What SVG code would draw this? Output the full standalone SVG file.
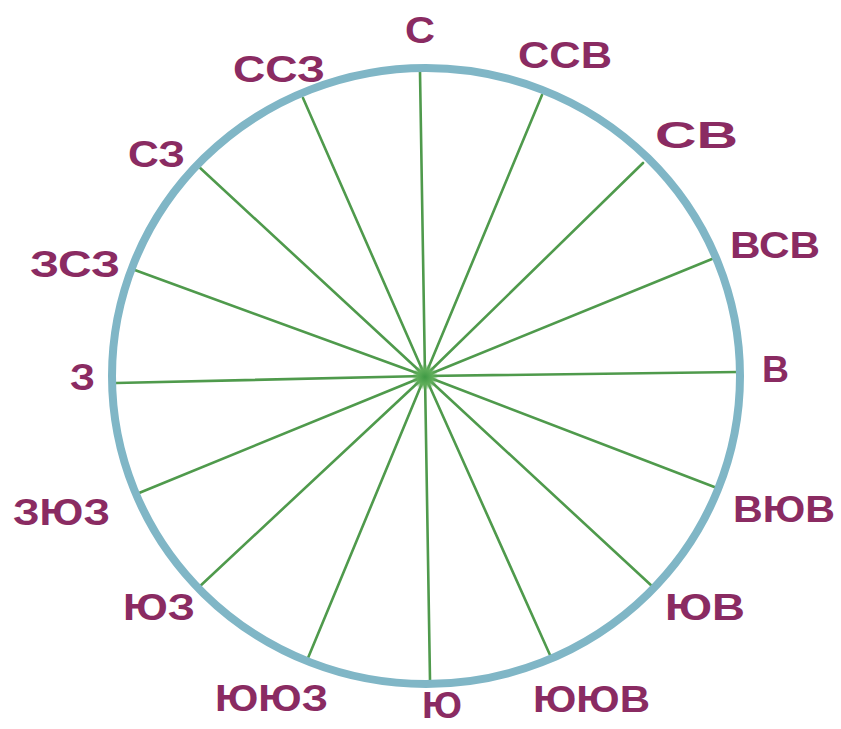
<svg xmlns="http://www.w3.org/2000/svg" width="841" height="729" viewBox="0 0 841 729">
<style>
.spoke{stroke:#4f9a4c;stroke-width:2.6;stroke-linecap:round}
.ring{fill:none;stroke:#80b6c6;stroke-width:8}
.lbl{font-family:"Liberation Sans",Arial,sans-serif;font-weight:bold;font-size:37px;fill:#8a2b62}
</style>
<defs>
<radialGradient id="hub">
<stop offset="0" stop-color="#3f9a45"/>
<stop offset="0.6" stop-color="#5fae5a"/>
<stop offset="1" stop-color="#5fae5a" stop-opacity="0"/>
</radialGradient>
</defs>
<rect width="841" height="729" fill="#ffffff"/>
<g id="connectors">
<line class="spoke" x1="425" y1="376" x2="420" y2="72"/>
<line class="spoke" x1="425" y1="376" x2="542" y2="95"/>
<line class="spoke" x1="425" y1="376" x2="643" y2="163"/>
<line class="spoke" x1="425" y1="376" x2="712" y2="259"/>
<line class="spoke" x1="425" y1="376" x2="738" y2="372"/>
<line class="spoke" x1="425" y1="376" x2="717" y2="488"/>
<line class="spoke" x1="425" y1="376" x2="653" y2="587"/>
<line class="spoke" x1="425" y1="376" x2="550" y2="655"/>
<line class="spoke" x1="425" y1="376" x2="430" y2="680"/>
<line class="spoke" x1="425" y1="376" x2="308" y2="658"/>
<line class="spoke" x1="425" y1="376" x2="198" y2="588"/>
<line class="spoke" x1="425" y1="376" x2="139" y2="493"/>
<line class="spoke" x1="425" y1="376" x2="116" y2="383"/>
<line class="spoke" x1="425" y1="376" x2="132" y2="269"/>
<line class="spoke" x1="425" y1="376" x2="198" y2="166"/>
<line class="spoke" x1="425" y1="376" x2="303" y2="98"/>
</g>
<g id="hub-node"><circle cx="425" cy="377" r="13" fill="url(#hub)"/></g>
<g id="ring"><ellipse class="ring" cx="426" cy="376" rx="314" ry="308"/></g>
<g id="n-N"><text class="lbl" x="405" y="43" textLength="30" lengthAdjust="spacingAndGlyphs">С</text></g>
<g id="n-NNE"><text class="lbl" x="518" y="68" textLength="94" lengthAdjust="spacingAndGlyphs">ССВ</text></g>
<g id="n-NE"><text class="lbl" x="655" y="148" textLength="83" lengthAdjust="spacingAndGlyphs">СВ</text></g>
<g id="n-ENE"><text class="lbl" x="730" y="258" textLength="90" lengthAdjust="spacingAndGlyphs">ВСВ</text></g>
<g id="n-E"><text class="lbl" x="762" y="382" textLength="27" lengthAdjust="spacingAndGlyphs">В</text></g>
<g id="n-ESE"><text class="lbl" x="733" y="522" textLength="102" lengthAdjust="spacingAndGlyphs">ВЮВ</text></g>
<g id="n-SE"><text class="lbl" x="665" y="620" textLength="80" lengthAdjust="spacingAndGlyphs">ЮВ</text></g>
<g id="n-SSE"><text class="lbl" x="533" y="712" textLength="117" lengthAdjust="spacingAndGlyphs">ЮЮВ</text></g>
<g id="n-S"><text class="lbl" x="422" y="718" textLength="40" lengthAdjust="spacingAndGlyphs">Ю</text></g>
<g id="n-SSW"><text class="lbl" x="215" y="711" textLength="113" lengthAdjust="spacingAndGlyphs">ЮЮЗ</text></g>
<g id="n-SW"><text class="lbl" x="123" y="620" textLength="72" lengthAdjust="spacingAndGlyphs">ЮЗ</text></g>
<g id="n-WSW"><text class="lbl" x="13" y="525" textLength="97" lengthAdjust="spacingAndGlyphs">ЗЮЗ</text></g>
<g id="n-W"><text class="lbl" x="70" y="390" textLength="25" lengthAdjust="spacingAndGlyphs">З</text></g>
<g id="n-WNW"><text class="lbl" x="30" y="277" textLength="90" lengthAdjust="spacingAndGlyphs">ЗСЗ</text></g>
<g id="n-NW"><text class="lbl" x="128" y="167" textLength="57" lengthAdjust="spacingAndGlyphs">СЗ</text></g>
<g id="n-NNW"><text class="lbl" x="233" y="82" textLength="92" lengthAdjust="spacingAndGlyphs">ССЗ</text></g>
</svg>
